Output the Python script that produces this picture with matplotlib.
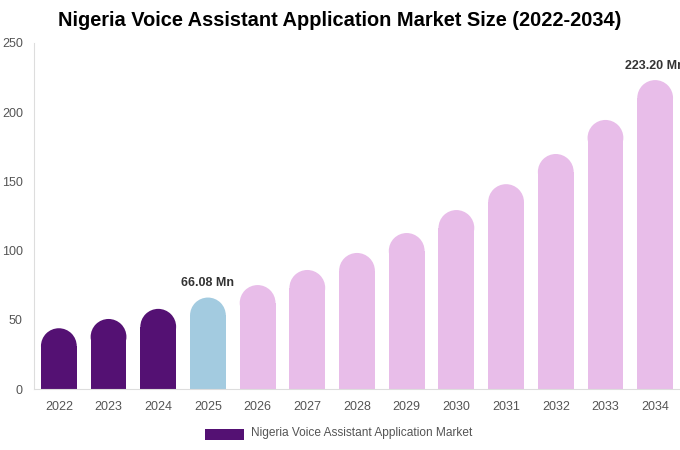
import matplotlib.pyplot as plt
from matplotlib.patches import Ellipse, Rectangle

plt.rcParams['font.family'] = ['Liberation Sans', 'DejaVu Sans']

# Data
years = ['2022', '2023', '2024', '2025', '2026', '2027', '2028',
         '2029', '2030', '2031', '2032', '2033', '2034']
values = [43.9, 50.6, 57.9, 66.08, 75.1, 86.0, 98.3,
          112.7, 129.3, 148.0, 169.8, 194.4, 223.2]
labelled = {'2025': '66.08 Mn', '2034': '223.20 Mn'}
y_ticks = [0, 50, 100, 150, 200, 250]

dark = '#541173'
blue = '#a3cbe0'
lilac = '#e8bde9'
colors = [dark, dark, dark, blue] + [lilac] * 9

W, H = 680, 450
fig = plt.figure(figsize=(W / 100, H / 100), dpi=100)
left, right, bottom, top = 34, 680, 389, 43
ax = fig.add_axes([left / W, (H - bottom) / H, (right - left) / W, (bottom - top) / H])
ax.set_xlim(-0.5, len(years) - 0.5)
ax.set_ylim(0, 250)

bar_w = 0.72
# radius of rounded top in data units of y (so it looks like a semicircle)
px_per_x = (right - left) / len(years)
px_per_y = (bottom - top) / 250
r_y = bar_w / 2 * px_per_x / px_per_y

for i, (v, c) in enumerate(zip(values, colors)):
    ax.add_patch(Rectangle((i - bar_w / 2, 0), bar_w, v - r_y, facecolor=c,
                           edgecolor='none'))
    ax.add_patch(Ellipse((i, v - r_y), bar_w, 2 * r_y, facecolor=c,
                         edgecolor='none'))
    if years[i] in labelled:
        ax.annotate(labelled[years[i]], (i, v), xytext=(0, 6),
                    textcoords='offset points', ha='center', va='bottom',
                    fontsize=9, fontweight='bold', color='#333333',
                    annotation_clip=False)

ax.set_xticks(range(len(years)))
ax.set_xticklabels(years)
ax.set_yticks(y_ticks)
ax.tick_params(axis='both', length=0, labelsize=9, colors='#555555')
ax.tick_params(axis='x', pad=9)
ax.tick_params(axis='y', pad=8)
for s in ['top', 'right']:
    ax.spines[s].set_visible(False)
for s in ['left', 'bottom']:
    ax.spines[s].set_color('#dddddd')

fig.text(340 / W, 1 - 21 / H, 'Nigeria Voice Assistant Application Market Size (2022-2034)',
         ha='center', va='center', fontsize=14.4, fontweight='bold', color='#000000')

# legend
fig.patches.append(Rectangle((205 / W, 1 - 440 / H), 39 / W, 11 / H,
                             transform=fig.transFigure, facecolor=dark,
                             edgecolor='none'))
fig.text(251 / W, 1 - 433 / H, 'Nigeria Voice Assistant Application Market',
         ha='left', va='center', fontsize=8.6, color='#555555')

fig.savefig('out.png', dpi=100)
